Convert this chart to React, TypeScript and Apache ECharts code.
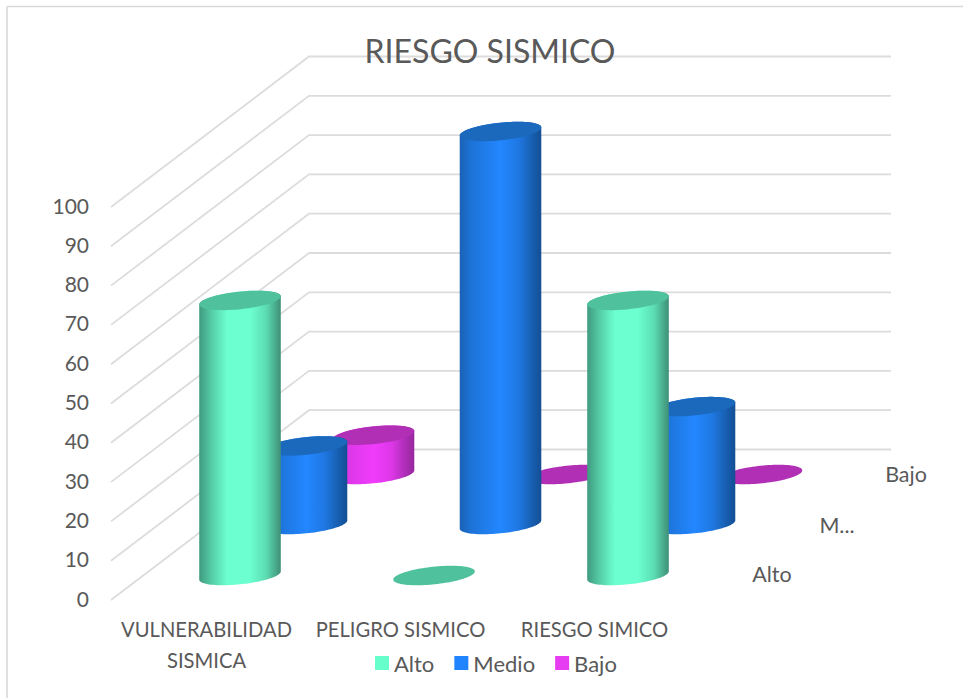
import React, { useEffect, useRef } from "react";
import * as echarts from "echarts";

const categories = ["VULNERABILIDAD\nSISMICA", "PELIGRO SISMICO", "RIESGO SIMICO"];
const alto = [70, 0, 70];
const medio = [20, 100, 30];
const bajo = [10, 0, 0];
const yTicks = [0, 10, 20, 30, 40, 50, 60, 70, 80, 90, 100];
const depthLabels = ["Alto", "M...", "Bajo"];

const FONT = "Lato";
const TEXT = "#595959";
const WALL_DX = 198;
const WALL_DY = -150.5;
const WALL_W = 780;
const RX = 41;
const RY = 8.8;
const TILT = (-6 * Math.PI) / 180;

function ellipsePoints(cx: number, cy: number, from: number, to: number, n: number) {
  const pts: number[][] = [];
  for (let i = 0; i <= n; i++) {
    const t = from + ((to - from) * i) / n;
    pts.push([
      cx + RX * Math.cos(t) * Math.cos(TILT) - RY * Math.sin(t) * Math.sin(TILT),
      cy + RX * Math.cos(t) * Math.sin(TILT) + RY * Math.sin(t) * Math.cos(TILT),
    ]);
  }
  return pts;
}

function cylinder(dx: number, dy: number, stops: [number, string][], topColor: string) {
  return (params: any, api: any) => {
    const cat = api.value(0);
    const val = api.value(1);
    const base = api.coord([cat, 0]);
    const top = api.coord([cat, val]);
    const cx = base[0] + dx;
    const by = base[1] + dy;
    const ty = top[1] + dy;
    const t0 = Math.atan2(-RY * Math.sin(TILT), RX * Math.cos(TILT));
    const children: any[] = [];
    if (val > 0) {
      const bottomArc = ellipsePoints(cx, by, t0, t0 + Math.PI, 48);
      const topArc = ellipsePoints(cx, ty, t0 + Math.PI, t0 + 2 * Math.PI, 48);
      children.push({
        type: "polygon",
        shape: { points: bottomArc.concat(topArc) },
        style: {
          fill: new echarts.graphic.LinearGradient(
            0, 0, 1, 0,
            stops.map(([offset, color]) => ({ offset, color }))
          ),
        },
      });
    }
    children.push({
      type: "polygon",
      shape: { points: ellipsePoints(cx, ty, 0, 2 * Math.PI, 96) },
      style: { fill: topColor },
    });
    return { type: "group", children };
  };
}

function walls(params: any, api: any) {
  const cs = params.coordSys;
  const p = api.coord([0, api.value(0)]);
  const x0 = cs.x;
  return {
    type: "polyline",
    shape: {
      points: [
        [x0, p[1]],
        [x0 + WALL_DX, p[1] + WALL_DY],
        [x0 + WALL_W, p[1] + WALL_DY],
      ],
    },
    style: { stroke: "#dcdcdc", lineWidth: 1.8, fill: "none" },
  };
}

const toPairs = (vals: number[]) => vals.map((v, i) => [i, v]);

export default function App() {
  const ref = useRef<HTMLDivElement>(null);
  useEffect(() => {
    document.body.style.margin = "0";
    const chart = echarts.init(ref.current!, null, { renderer: "svg" });
    chart.setOption({
      animation: false,
      backgroundColor: "#ffffff",
      title: {
        text: "RIESGO SISMICO",
        left: 485,
        top: 29,
        textAlign: "center",
        textStyle: { fontFamily: FONT, fontSize: 32, fontWeight: "normal", color: TEXT },
      },
      legend: {
        data: ["Alto", "Medio", "Bajo"],
        left: 370,
        top: 647,
        icon: "rect",
        itemWidth: 14,
        itemHeight: 14,
        itemGap: 20,
        itemStyle: { borderWidth: 0 },
        textStyle: { fontFamily: FONT, fontSize: 22, color: TEXT, padding: [0, 0, 0, 0] },
      },
      grid: { left: 111, top: 207, width: 582, height: 393 },
      xAxis: {
        type: "category",
        data: categories,
        axisLine: { show: false },
        axisTick: { show: false },
        axisLabel: {
          interval: 0,
          margin: 13,
          fontFamily: FONT,
          fontSize: 20.2,
          color: TEXT,
          lineHeight: 31,
          padding: [0, 3, 0, 0],
        },
      },
      yAxis: {
        type: "value",
        min: 0,
        max: 100,
        interval: 10,
        axisLine: { show: false },
        axisTick: { show: false },
        splitLine: { show: false },
        axisLabel: {
          margin: 22,
          fontFamily: FONT,
          fontSize: 21,
          color: TEXT,
          verticalAlign: "bottom",
          lineHeight: 4,
        },
      },
      graphic: [
        { type: "line", shape: { x1: 7, y1: 6.5, x2: 963, y2: 6.5 }, style: { stroke: "#d9d9d9", lineWidth: 1.6 } },
        { type: "line", shape: { x1: 7, y1: 6.5, x2: 7, y2: 698 }, style: { stroke: "#d9d9d9", lineWidth: 1.6 } },
        { type: "text", x: 772, y: 574, style: { text: depthLabels[0], fontFamily: FONT, fontSize: 21.5, fill: TEXT, align: "center", verticalAlign: "middle" } },
        { type: "text", x: 837, y: 525, style: { text: depthLabels[1], fontFamily: FONT, fontSize: 21.5, fill: TEXT, align: "center", verticalAlign: "middle" } },
        { type: "text", x: 906, y: 474, style: { text: depthLabels[2], fontFamily: FONT, fontSize: 21.5, fill: TEXT, align: "center", verticalAlign: "middle" } },
      ],
      series: [
        {
          name: "Walls",
          type: "custom",
          z: 1,
          silent: true,
          data: yTicks.map((v) => [v]),
          encode: { y: 0 },
          renderItem: walls,
        },
        {
          name: "Bajo",
          type: "custom",
          z: 3,
          itemStyle: { color: "#E63CF2" },
          data: toPairs(bajo),
          encode: { x: 0, y: 1 },
          renderItem: cylinder(165.5, -125.5, [
            [0, "#c931d4"], [0.14, "#d936e4"], [0.5, "#f03cfc"], [0.72, "#dd37e8"], [0.92, "#a62cae"], [1, "#98289f"],
          ], "#B02FB5"),
        },
        {
          name: "Medio",
          type: "custom",
          z: 4,
          itemStyle: { color: "#2084FF" },
          data: toPairs(medio),
          encode: { x: 0, y: 1 },
          renderItem: cylinder(98.5, -75.5, [
            [0, "#1a62b6"], [0.14, "#1d73d6"], [0.5, "#2387ff"], [0.72, "#1f78e2"], [0.92, "#165aa8"], [1, "#144f94"],
          ], "#1B69BC"),
        },
        {
          name: "Alto",
          type: "custom",
          z: 5,
          itemStyle: { color: "#66FFCC" },
          data: toPairs(alto),
          encode: { x: 0, y: 1 },
          renderItem: cylinder(32, -24.5, [
            [0, "#3f9a7f"], [0.14, "#54c9a3"], [0.34, "#6cffcf"], [0.62, "#6cffcf"], [0.82, "#5cdcb3"], [1, "#3f8f76"],
          ], "#4FC19C"),
        },
      ],
    });
    return () => chart.dispose();
  }, []);
  return <div ref={ref} style={{ width: 963, height: 698 }} />;
}
